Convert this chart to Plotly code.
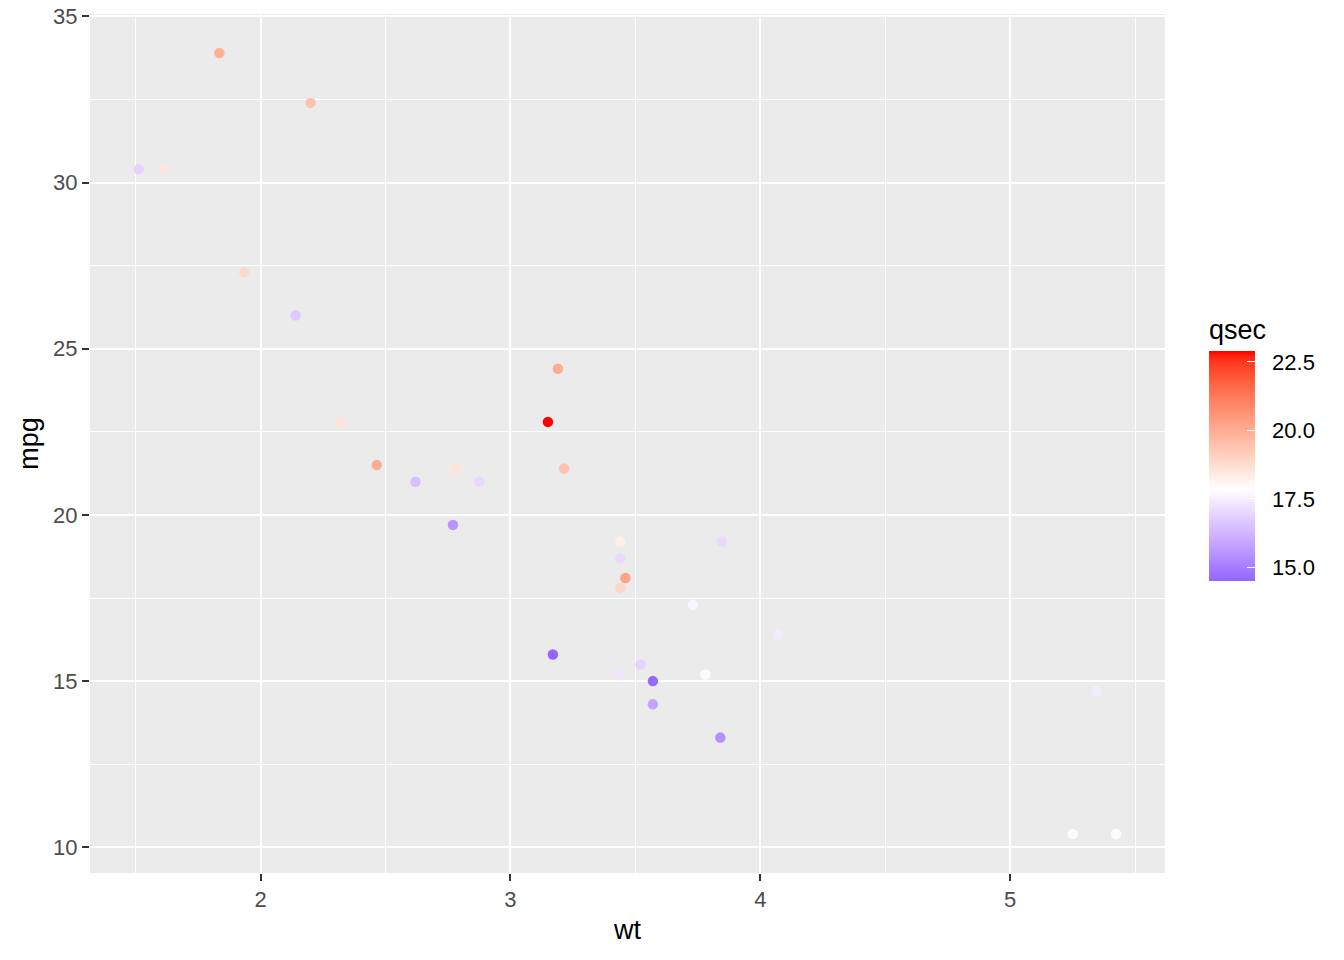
import numpy as np
import plotly.graph_objects as go

wt = [2.620, 2.875, 2.320, 3.215, 3.440, 3.460, 3.570, 3.190, 3.150, 3.440, 3.440,
      4.070, 3.730, 3.780, 5.250, 5.424, 5.345, 2.200, 1.615, 1.835, 2.465, 3.520,
      3.435, 3.840, 3.845, 1.935, 2.140, 1.513, 3.170, 2.770, 3.570, 2.780]
mpg = [21.0, 21.0, 22.8, 21.4, 18.7, 18.1, 14.3, 24.4, 22.8, 19.2, 17.8,
       16.4, 17.3, 15.2, 10.4, 10.4, 14.7, 32.4, 30.4, 33.9, 21.5, 15.5,
       15.2, 13.3, 19.2, 27.3, 26.0, 30.4, 15.8, 19.7, 15.0, 21.4]
qsec = [16.46, 17.02, 18.61, 19.44, 17.02, 20.22, 15.84, 20.00, 22.90, 18.30, 18.90,
        17.40, 17.60, 18.00, 17.98, 17.82, 17.42, 19.47, 18.52, 19.90, 20.01, 16.87,
        17.30, 15.41, 17.05, 18.90, 16.70, 16.90, 14.50, 15.50, 14.60, 18.60]
x_ticks = [2, 3, 4, 5]
y_ticks = [10, 15, 20, 25, 30, 35]
c_ticks = [15.0, 17.5, 20.0, 22.5]

# ---- Lab colour interpolation (like ggplot2 scale_colour_gradient2) ----
def srgb_to_lin(c):
    c = c / 255.0
    return np.where(c <= 0.04045, c / 12.92, ((c + 0.055) / 1.055) ** 2.4)

def lin_to_srgb(c):
    c = np.clip(c, 0, 1)
    v = np.where(c <= 0.0031308, 12.92 * c, 1.055 * c ** (1 / 2.4) - 0.055)
    return np.clip(np.round(v * 255), 0, 255).astype(int)

M = np.array([[0.4124, 0.3576, 0.1805], [0.2126, 0.7152, 0.0722], [0.0193, 0.1192, 0.9505]])
Minv = np.linalg.inv(M)
WP = np.array([0.95047, 1.0, 1.08883])

def f(t):
    d = 6 / 29
    return np.where(t > d ** 3, np.cbrt(t), t / (3 * d * d) + 4 / 29)

def finv(t):
    d = 6 / 29
    return np.where(t > d, t ** 3, 3 * d * d * (t - 4 / 29))

def rgb_to_lab(rgb):
    xyz = M @ srgb_to_lin(np.array(rgb, float)) / WP
    fx, fy, fz = f(xyz)
    return np.array([116 * fy - 16, 500 * (fx - fy), 200 * (fy - fz)])

def lab_to_rgb(lab):
    L, a, b = lab
    fy = (L + 16) / 116
    fx = fy + a / 500
    fz = fy - b / 200
    xyz = np.array([finv(fx), finv(fy), finv(fz)]) * WP
    return lin_to_srgb(Minv @ xyz)

low, mid, high = rgb_to_lab([0, 0, 255]), rgb_to_lab([255, 255, 255]), rgb_to_lab([255, 0, 0])
midpoint = float(np.mean(qsec))
cmin, cmax = min(qsec), max(qsec)
maxd = max(abs(cmin - midpoint), abs(cmax - midpoint))

colorscale = []
for v in np.linspace(cmin, cmax, 41):
    p = 0.5 + (v - midpoint) / (2 * maxd)
    if p < 0.5:
        lab = low + (mid - low) * (p / 0.5)
    else:
        lab = mid + (high - mid) * ((p - 0.5) / 0.5)
    r, g, b = lab_to_rgb(lab)
    colorscale.append([(v - cmin) / (cmax - cmin), f"rgb({r},{g},{b})"])
colorscale[0][0] = 0.0
colorscale[-1][0] = 1.0

font = "Liberation Sans, Arial, sans-serif"

fig = go.Figure(go.Scatter(
    x=wt, y=mpg, mode="markers",
    marker=dict(size=10.5, color=qsec, colorscale=colorscale, cmin=cmin, cmax=cmax,
                line=dict(width=0),
                colorbar=dict(
                    title=dict(text="qsec", side="top", font=dict(size=27, color="black", family=font)),
                    tickvals=c_ticks, ticktext=["\u00a0\u00a0" + f"{v:.1f}" for v in c_ticks],
                    ticks="inside", ticklen=8, tickcolor="white", tickwidth=1,
                    tickfont=dict(size=22, color="black", family=font),
                    thickness=46, lenmode="pixels", len=265,
                    x=1.041, xanchor="left", y=0.3399, yanchor="bottom",
                    outlinewidth=0, bgcolor="rgba(0,0,0,0)", xpad=0, ypad=0,
                )),
    showlegend=False, hoverinfo="x+y",
))

axis_common = dict(
    showgrid=True, gridcolor="white", gridwidth=2,
    zeroline=False, showline=False, automargin=False,
    ticks="outside", ticklen=7, tickwidth=2, tickcolor="#333333",
    tickfont=dict(size=22, color="#4D4D4D", family=font),
)

fig.update_xaxes(**axis_common, range=[1.3175, 5.6195], tickvals=x_ticks,
                 title=dict(text="wt", font=dict(size=27, color="black", family=font), standoff=8),
                 minor=dict(dtick=0.5, tick0=1.5, showgrid=True, gridcolor="white", gridwidth=1, ticks=""))
fig.update_yaxes(**axis_common, range=[9.225, 35.075], tickvals=y_ticks,
                 title=dict(text="mpg", font=dict(size=27, color="black", family=font), standoff=6),
                 minor=dict(dtick=2.5, tick0=12.5, showgrid=True, gridcolor="white", gridwidth=1, ticks=""))

fig.update_layout(
    width=1344, height=960,
    margin=dict(l=90, r=179, t=14, b=87, autoexpand=False),
    plot_bgcolor="#EBEBEB", paper_bgcolor="white",
    font=dict(family=font),
)

fig.write_html("out.html", config={"displayModeBar": False},
               post_script="document.body.style.margin='0';")
